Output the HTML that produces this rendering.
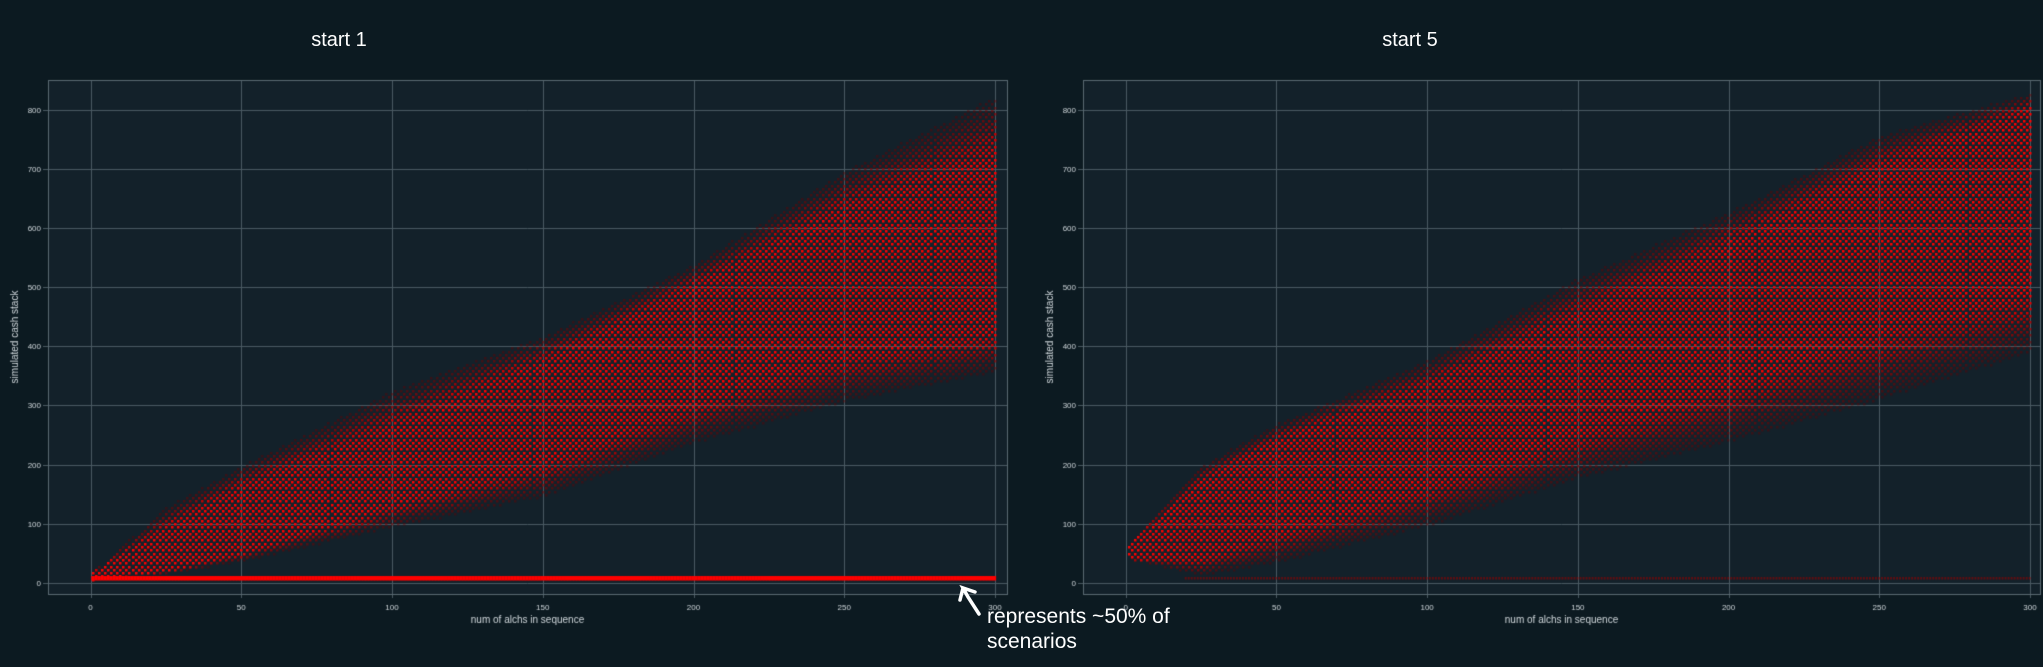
<!DOCTYPE html>
<html><head><meta charset="utf-8"><style>
html,body{margin:0;padding:0;background:#0c1a21;width:2043px;height:667px;overflow:hidden;font-family:"Liberation Sans",sans-serif}
#c{position:absolute;left:0;top:0}
.t{position:absolute;color:#fff;font-size:20px;transform:translateX(-50%)}
.note{position:absolute;color:#fff;font-size:21px;line-height:25px;left:987px;top:604px}
</style></head><body>
<div class="t" style="left:339px;top:29px">start 1</div>
<div class="t" style="left:1410px;top:29px">start 5</div>
<canvas id="c" width="2043" height="667"></canvas>
<div class="note">represents ~50% of<br>scenarios</div>
<svg style="position:absolute;left:0;top:0" width="2043" height="667">
<path d="M979,614 L968,597 L963,588 L975,592 M963,588 L960,600" stroke="#fff" stroke-width="3.5" fill="none" stroke-linecap="round"/>
</svg>
<script>
const xCats=[0,25,50,100,150,200,250,300];
const yTicks=[0,100,200,300,400,500,600,700,800];
const xTicks=[0,50,100,150,200,250,300];
const leftDenseLo=[5,20,50,130,200,300,380,420];
const leftDenseHi=[15,90,160,260,370,500,630,720];
const leftOuterLo=[5,15,35,90,140,230,300,350];
const leftOuterHi=[15,130,200,330,420,540,700,830];
const leftFloor=8;
const rightDenseLo=[40,40,80,160,250,330,420,490];
const rightDenseHi=[60,170,240,330,450,570,700,800];
const rightOuterLo=[40,10,30,90,170,230,300,380];
const rightOuterHi=[60,200,270,380,520,630,760,830];
const rightFloor=8;

const cv=document.getElementById('c');const g=cv.getContext('2d');
function interp(arr,x){for(let i=0;i<xCats.length-1;i++){if(x<=xCats[i+1]){const t=(x-xCats[i])/(xCats[i+1]-xCats[i]);return arr[i]+t*(arr[i+1]-arr[i]);}}return arr[arr.length-1];}
function panel(p){
 const L=p.L,R=p.R,T=80,B=594;
 const sx=v=>p.x0+(v/300)*(p.x300-p.x0);
 const sy=v=>583-v*(583-109.5)/800;
 g.fillStyle='#13212a';g.fillRect(L,T,R-L,B-T);
 g.strokeStyle='#4a5a62';g.lineWidth=1;
 xTicks.forEach(v=>{const x=Math.round(sx(v))+.5;g.beginPath();g.moveTo(x,T);g.lineTo(x,B);g.stroke();g.beginPath();g.moveTo(x,B);g.lineTo(x,B+4);g.stroke();});
 yTicks.forEach(v=>{const y=Math.round(sy(v))+.5;g.beginPath();g.moveTo(L,y);g.lineTo(R,y);g.stroke();g.beginPath();g.moveTo(L-5,y);g.lineTo(L,y);g.stroke();});
 g.strokeStyle='#5a6a72';g.strokeRect(L+.5,T+.5,R-L,B-T);
 g.fillStyle='#cfd6da';g.font='8px "Liberation Sans",sans-serif';
 g.textAlign='center';xTicks.forEach(v=>g.fillText(v,sx(v),610));
 g.textAlign='right';yTicks.forEach(v=>g.fillText(v,L-7,sy(v)+3));
 g.font='10px "Liberation Sans",sans-serif';g.textAlign='center';
 g.fillText('num of alchs in sequence',(L+R)/2,623);
 g.save();g.translate(p.yl,(T+B)/2);g.rotate(-Math.PI/2);g.fillText('simulated cash stack',0,0);g.restore();
 for(let x=1;x<=300;x++){
  const dl=interp(p.dl,x),dh=interp(p.dh,x),ol=interp(p.ol,x),oh=interp(p.oh,x);
  const off=(x%2)*5.5;
  for(let y=Math.floor(ol/11)*11+off;y<=oh;y+=11){
   let a;
   if(y>=dl&&y<=dh)a=1;else if(y<dl)a=Math.max(0,1-(dl-y)/Math.max(1,dl-ol));else a=Math.max(0,1-(y-dh)/Math.max(1,oh-dh));
   if(a<=0.08)continue;
   g.fillStyle='rgb('+Math.round(90+165*a)+',0,0)';
   g.globalAlpha=Math.min(1,0.3+a);
   g.fillRect(Math.round(sx(x)-1.2),Math.round(sy(y)-1.2),2.5,2.5);
  }
  g.globalAlpha=1;
  if(x>=p.fs){g.fillStyle=p.fc;g.fillRect(sx(x)-p.fw/2,sy(p.floor)-p.fw/2,p.fw*0.75,p.fw);}
 }
}
panel({L:48,R:1007,x0:90.5,x300:995,yl:18,dl:leftDenseLo,dh:leftDenseHi,ol:leftOuterLo,oh:leftOuterHi,floor:leftFloor,fs:1,fc:'#f00',fw:4.5});
panel({L:1083,R:2040,x0:1125.7,x300:2030,yl:1053,dl:rightDenseLo,dh:rightDenseHi,ol:rightOuterLo,oh:rightOuterHi,floor:rightFloor,fs:20,fc:'rgba(150,0,0,0.6)',fw:2.5});
</script>
</body></html>
